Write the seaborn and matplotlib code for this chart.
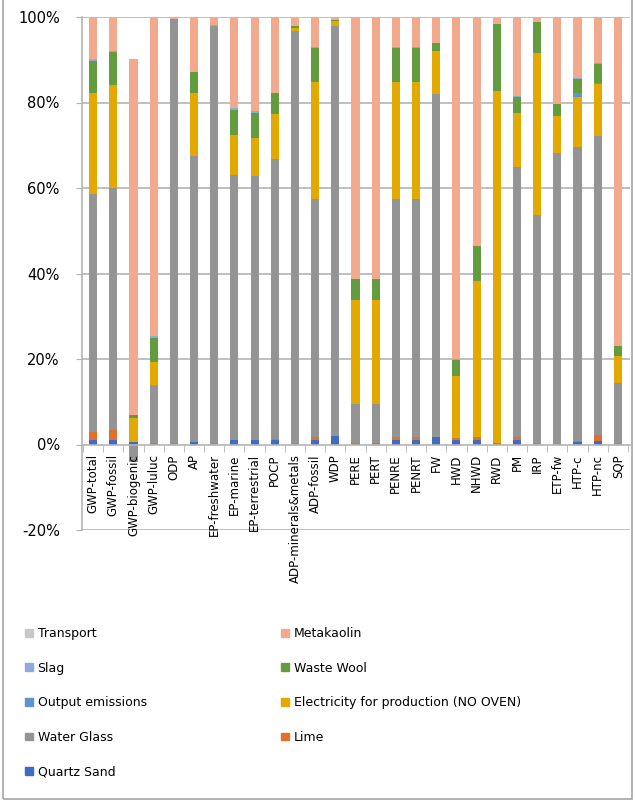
import numpy as np
import pandas as pd
import seaborn as sns
import matplotlib.pyplot as plt
from matplotlib.patches import Patch, Rectangle

# Impact categories (x axis)
categories = ['GWP-total', 'GWP-fossil', 'GWP-biogenic', 'GWP-luluc', 'ODP', 'AP',
              'EP-freshwater', 'EP-marine', 'EP-terrestrial', 'POCP',
              'ADP-minerals&metals', 'ADP-fossil', 'WDP', 'PERE', 'PERT', 'PENRE',
              'PENRT', 'FW', 'HWD', 'NHWD', 'RWD', 'PM', 'IRP', 'ETP-fw', 'HTP-c',
              'HTP-nc', 'SQP']

# Share of each contributor (%), stacked bottom -> top
quartz_sand = [1.0, 1.0, 0.5, 0.0, 0.0, 0.5, 0.0, 1.0, 1.0, 1.0, 0.0, 1.0, 2.0, 0.0,
               0.0, 1.0, 1.0, 1.7, 1.1, 1.0, 0.0, 1.0, 0.0, 0.0, 0.5, 0.8, 0.0]
lime = [1.9, 2.3, 0.0, 0.4, 0.0, 0.0, 0.0, 0.0, 0.0, 0.4, 0.0, 0.7, 0.0, 0.4,
        0.4, 0.7, 0.7, 0.0, 0.4, 0.7, 0.4, 0.7, 0.0, 0.0, 0.4, 1.5, 0.0]
water_glass = [55.8, 56.6, -4.0, 13.5, 99.6, 67.0, 97.8, 62.1, 61.8, 65.4, 96.7, 55.7,
               96.0, 9.1, 9.1, 55.7, 55.7, 80.3, 0.0, 0.0, 0.0, 63.3, 53.7, 68.1,
               68.7, 69.9, 14.5]
electricity = [23.6, 24.2, 5.6, 5.4, 0.0, 14.8, 0.4, 9.4, 8.8, 10.4, 0.8, 27.5, 1.0,
               24.3, 24.3, 27.5, 27.5, 10.1, 14.6, 36.5, 82.3, 12.6, 37.8, 8.7, 11.7,
               12.2, 6.3]
output_emissions = [0.0, 0.0, 0.0, 0.0, 0.0, 0.0, 0.0, 0.0, 0.0, 0.0, 0.0, 0.0, 0.0,
                    0.0, 0.0, 0.0, 0.0, 0.0, 0.0, 0.0, 0.0, 0.0, 0.0, 0.0, 1.0, 0.2, 0.0]
waste_wool = [7.5, 7.7, 0.9, 5.7, 0.0, 4.8, 0.0, 5.8, 6.0, 5.0, 0.4, 7.8, 0.3, 5.0,
              5.0, 7.8, 7.8, 1.9, 3.7, 8.2, 15.7, 3.7, 7.3, 2.9, 3.1, 4.5, 2.3]
slag = [0.3, 0.3, 0.0, 0.3, 0.0, 0.0, 0.0, 0.4, 0.4, 0.0, 0.0, 0.3, 0.0, 0.0,
        0.0, 0.3, 0.3, 0.0, 0.3, 0.0, 0.0, 0.3, 0.0, 0.0, 0.3, 0.2, 0.0]
metakaolin = [9.9, 7.9, 83.2, 74.7, 0.4, 12.9, 1.8, 21.3, 22.0, 17.8, 2.1, 7.0, 0.7,
              61.2, 61.2, 7.0, 7.0, 6.0, 79.9, 53.6, 1.6, 18.4, 1.2, 20.3, 14.3,
              10.9, 76.9]
transport = [0.0] * 27

series = [
    ('Quartz Sand', quartz_sand, '#3f6cc0'),
    ('Lime', lime, '#e0702c'),
    ('Water Glass', water_glass, '#949494'),
    ('Electricity for production (NO OVEN)', electricity, '#e3a900'),
    ('Output emissions', output_emissions, '#5b95cc'),
    ('Waste Wool', waste_wool, '#639b3f'),
    ('Slag', slag, '#8eaadb'),
    ('Metakaolin', metakaolin, '#f2a98c'),
    ('Transport', transport, '#c8c8c8'),
]

fig = plt.figure(figsize=(6.35, 8.08), dpi=100)
ax = fig.add_axes([82 / 635, 1 - 530 / 808, (630 - 82) / 635, (530 - 17) / 808])

# stacked bars: positives stack upward, negatives downward (like Excel)
pos_base = np.zeros(len(categories))
neg_base = np.zeros(len(categories))
for name, vals, col in series:
    v = np.array(vals)
    bottom = np.where(v >= 0, pos_base, neg_base)
    df = pd.DataFrame({'category': categories, 'value': v})
    sns.barplot(data=df, x='category', y='value', color=col, width=0.4,
                bottom=bottom, ax=ax, saturation=1, linewidth=0, zorder=2)
    pos_base += np.where(v >= 0, v, 0)
    neg_base += np.where(v < 0, v, 0)

grid_col = '#b4b4b4'
ax.set_axisbelow(False)  # tick labels drawn over the bars
ax.set_ylim(-20, 100)
ax.set_xlim(-0.55, len(categories) - 0.4)
for yv in [-20, 20, 40, 60, 80, 100]:
    ax.axhline(yv, color=grid_col, lw=1.2, zorder=1)

ax.set_yticks([-20, 0, 20, 40, 60, 80, 100])
ax.set_yticklabels(['-20%', '0%', '20%', '40%', '60%', '80%', '100%'], fontsize=10.5)
ax.tick_params(axis='y', length=4, color=grid_col, pad=12)

# x axis sits at 0%
for s in ['top', 'right']:
    ax.spines[s].set_visible(False)
ax.spines['left'].set_color(grid_col)
ax.spines['left'].set_linewidth(1.2)
ax.spines['bottom'].set_position(('data', 0))
ax.spines['bottom'].set_color(grid_col)
ax.spines['bottom'].set_linewidth(1.2)
ax.set_xticks(np.arange(len(categories)))
ax.set_xticklabels(categories, rotation=90, fontsize=8.5)
ax.set_xticks(np.arange(len(categories) + 1) - 0.5, minor=True)
ax.tick_params(axis='x', which='major', length=0, pad=7)
ax.tick_params(axis='x', which='minor', length=5, color=grid_col)
ax.set_xlabel('')
ax.set_ylabel('')

# legend in two columns, same reading order as the original
lookup = {name: col for name, vals, col in series}
left_names = ['Transport', 'Slag', 'Output emissions', 'Water Glass', 'Quartz Sand']
right_names = ['Metakaolin', 'Waste Wool', 'Electricity for production (NO OVEN)', 'Lime']
leg_kws = dict(loc='upper left', frameon=False, fontsize=9, handlelength=0.6,
               handleheight=0.6, handletextpad=0.4, labelspacing=1.73,
               borderpad=0, borderaxespad=0)
fig.legend(handles=[Patch(color=lookup[n], label=n) for n in left_names],
           bbox_to_anchor=(25 / 635, 1 - 627 / 808), **leg_kws)
fig.legend(handles=[Patch(color=lookup[n], label=n) for n in right_names],
           bbox_to_anchor=(281 / 635, 1 - 627 / 808), **leg_kws)

# chart area border
fig.patches.append(Rectangle((3 / 635, 1 - 799 / 808), 629 / 635, 0.05 + 799 / 808,
                             transform=fig.transFigure, fill=False,
                             edgecolor='#a6a6a6', lw=1.2))

fig.savefig('out.png', dpi=100)
